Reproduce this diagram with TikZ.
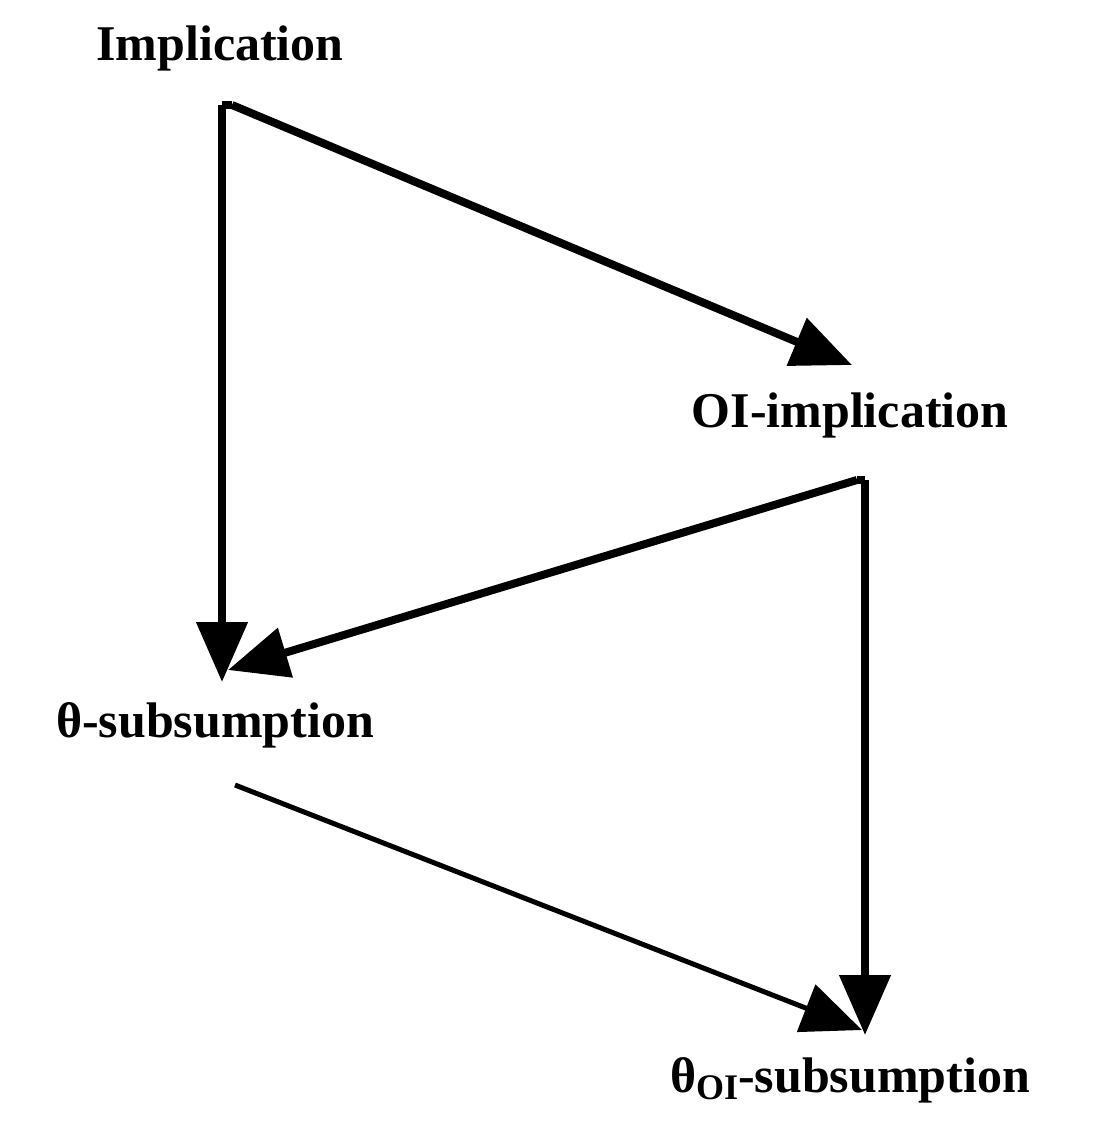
\documentclass[tikz,border=0pt]{standalone}
\usepackage{fontspec}
\setmainfont{Liberation Serif}
\usetikzlibrary{arrows.meta}
\begin{document}
\begin{tikzpicture}[x=0.5pt,y=-0.5pt,
  lbl/.style={font=\fontsize{25}{28}\selectfont\bfseries,inner sep=0pt},
  arr/.style={line width=4pt,-{Triangle[length=30pt,width=25pt]}},
  arrt/.style={line width=2.5pt,-{Triangle[length=30pt,width=25pt]}}]
\useasboundingbox (0,0) rectangle (1096,1142);
\node[lbl] (imp) at (220,48) {Implication};
\node[lbl] (oi) at (850,415) {OI-implication};
\node[lbl] (th) at (215,725) {θ-subsumption};
\node[lbl] (thoi) at (850,1080) {θ\raisebox{-0.3ex}{\fontsize{18}{20}\selectfont OI}-subsumption};
\coordinate (c1) at (222,105);
\coordinate (c2) at (865,480);
\coordinate (s3) at (235,785);
\coordinate (t1) at (222,682);
\coordinate (t2) at (852,365);
\coordinate (t3) at (228,670);
\coordinate (t4) at (865,1035);
\coordinate (t5) at (862,1030);
\draw[arr] (c1) -- (t1);
\draw[line width=4pt] (c1) -- ++(10,0);
\draw[arr] (c1) ++(10,0) -- (t2);
\draw[line width=4pt] (c2) -- ++(-8,0);
\draw[arr] (c2) -- (t4);
\draw[arr] (c2) ++(-8,0) -- (t3);
\draw[arrt] (s3) -- (t5);
\end{tikzpicture}
\end{document}
